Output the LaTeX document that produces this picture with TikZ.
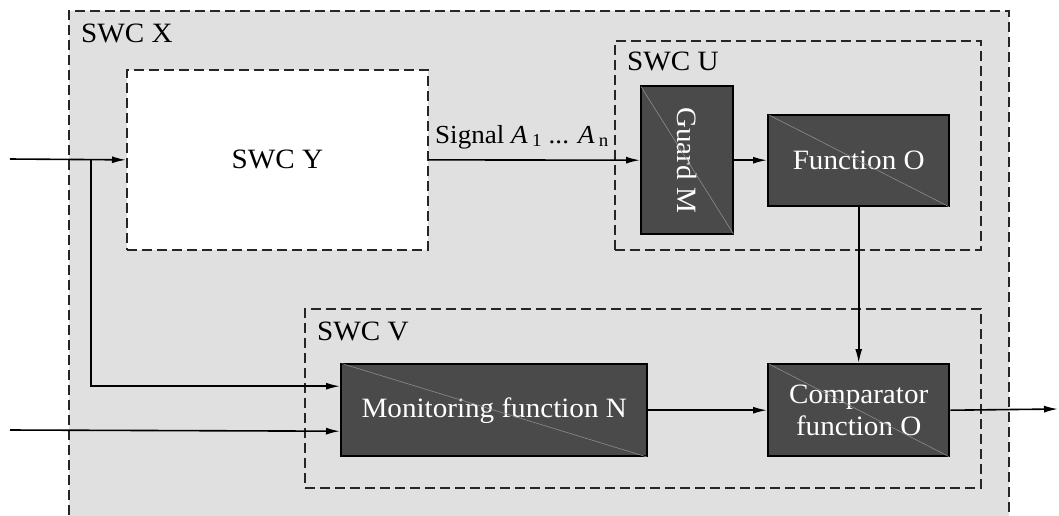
\documentclass[tikz,border=0pt]{standalone}
\usepackage{fontspec}
\setmainfont[FakeStretch=1.04]{Liberation Serif}
\usetikzlibrary{arrows.meta}
\definecolor{bggray}{HTML}{E0E0E0}
\definecolor{darkfill}{HTML}{4A4A4A}
\definecolor{diagline}{HTML}{8C8C8C}
\tikzset{
  swc/.style={draw=black!85, line width=1.7pt, dash pattern=on 10pt off 5pt, inner sep=0, anchor=north west},
  func/.style={draw=black, line width=2.4pt, fill=darkfill, text=white, font=\fontsize{28}{32}\selectfont, align=center, inner sep=0, anchor=north west},
  lbl/.style={font=\fontsize{28}{32}\selectfont, anchor=west, inner sep=0},
  conn/.style={line width=1.6pt, -{Latex[length=14pt,width=7pt]}},
  diag/.style={draw=diagline, line width=0.6pt, shorten >=2pt, shorten <=2pt},
}
\begin{document}
\begin{tikzpicture}[x=1pt,y=-1pt]
\useasboundingbox (0,0) rectangle (1059,515);
% containers
\node[swc, fill=bggray, minimum width=940, minimum height=506] (X) at (68,10) {};
\node[swc, fill=white, minimum width=301, minimum height=180] (Y) at (126,69) {};
\node[font=\fontsize{28}{32}\selectfont] (ylbl) at (Y.center) {SWC Y};
\node[swc, minimum width=366, minimum height=209] (U) at (614,40) {};
\node[swc, minimum width=676, minimum height=179] (V) at (304,308) {};
% labels
\node[lbl] (lx) at (81,33) {SWC X};
\node[lbl] (lu) at (627,61) {SWC U};
\node[lbl] (lv) at (317,331) {SWC V};
% function blocks
\node[func, minimum width=92, minimum height=148] (G) at (640,85) {\rotatebox{-90}{Guard M}};
\node[func, minimum width=181, minimum height=91] (F) at (767,114) {Function O};
\node[func, minimum width=306, minimum height=92] (M) at (340,363) {Monitoring function N};
\node[func, minimum width=181, minimum height=92] (C) at (767,363) {Comparator\\function O};
\foreach \n in {G,F,M,C} \draw[diag] (\n.north west) -- (\n.south east);
% signal label
\node[lbl, anchor=base west, font=\fontsize{26}{30}\selectfont] (sig) at (435,143) {Signal \textit{A}\,\textsubscript{1} ... \textit{A}\,\textsubscript{n}};
% coordinates
\coordinate (in1) at (10,159);
\coordinate (in2) at (10,430);
\coordinate (br) at (91,159);
\coordinate (out) at (1058,409);
% connectors
\draw[conn] (in1) -- (Y.west);
\draw[conn] (br) |- ([yshift=24pt]M.west);
\draw[conn] (in2) -- ([yshift=-21pt]M.west);
\draw[conn] (Y.east) -- (G.west);
\draw[conn] (G.east) -- (G.east -| F.west);
\draw[conn] (F.south) -- (C.north);
\draw[conn] (M.east) -- (C.west);
\draw[conn] (C.east) -- (out);
\end{tikzpicture}
\end{document}
